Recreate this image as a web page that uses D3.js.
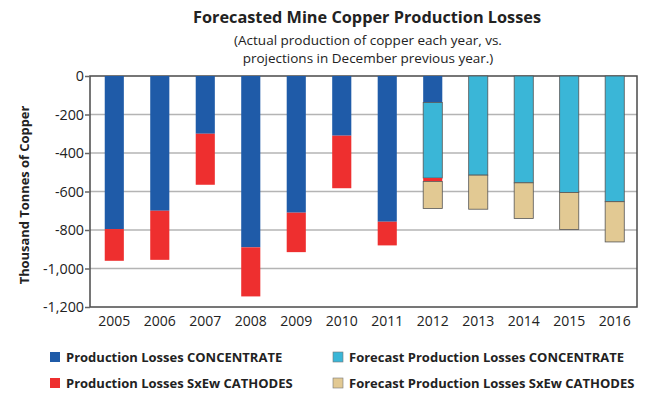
<!DOCTYPE html>
<html>
<head>
<meta charset="utf-8">
<script src="https://cdn.jsdelivr.net/npm/d3@7"></script>
<style>
  body { margin: 0; background: #fff; }
  text { font-family: "Open Sans", "Noto Sans", sans-serif; fill: #222; }
</style>
</head>
<body>
<div id="chart"></div>
<script>
// values (thousand tonnes, negative = loss)
var years = ["2005","2006","2007","2008","2009","2010","2011","2012","2013","2014","2015","2016"];
var concentrate = [-795, -700, -300, -890, -710, -310, -757, -138, 0, 0, 0, 0];
var cathodes = [-165, -255, -265, -255, -205, -273, -123, -18, 0, 0, 0, 0];
var forecastConcentrate = [0, 0, 0, 0, 0, 0, 0, -392, -515, -555, -605, -653];
var forecastCathodes = [0, 0, 0, 0, 0, 0, 0, -140, -177, -185, -192, -209];
var yTicks = [0, -200, -400, -600, -800, -1000, -1200];

var series = [
  {key: "conc", label: "Production Losses CONCENTRATE", color: "#1f5ba8", values: concentrate},
  {key: "fconc", label: "Forecast Production Losses CONCENTRATE", color: "#3ab6d7", values: forecastConcentrate, outline: true},
  {key: "cath", label: "Production Losses SxEw CATHODES", color: "#ee2f2f", values: cathodes},
  {key: "fcath", label: "Forecast Production Losses SxEw CATHODES", color: "#e2c993", values: forecastCathodes, outline: true}
];

var W = 655, H = 398;
var margin = {top: 76, right: 18, bottom: 91, left: 90};
var width = W - margin.left - margin.right,
    height = H - margin.top - margin.bottom;

var svg = d3.select("#chart").append("svg")
    .attr("width", W)
    .attr("height", H);

// titles
svg.append("text")
    .attr("x", 367).attr("y", 23)
    .attr("text-anchor", "middle")
    .style("font-size", "16.3px").style("font-weight", "bold")
    .text("Forecasted Mine Copper Production Losses");
svg.append("text")
    .attr("x", 368).attr("y", 45)
    .attr("text-anchor", "middle")
    .style("font-size", "13.5px")
    .text("(Actual production of copper each year, vs.");
svg.append("text")
    .attr("x", 368).attr("y", 63)
    .attr("text-anchor", "middle")
    .style("font-size", "13.5px")
    .text("projections in December previous year.)");

var g = svg.append("g")
    .attr("transform", "translate(" + margin.left + "," + margin.top + ")");

var x = d3.scaleBand().domain(years).range([2, width]).padding(0.58).paddingOuter(0.28);
var y = d3.scaleLinear().domain([0, -1200]).range([0, height]);

// gridlines
g.selectAll(".grid")
    .data(yTicks.filter(function(d) { return d !== 0 && d !== -1200; }))
  .enter().append("line")
    .attr("x1", 0).attr("x2", width)
    .attr("y1", function(d) { return y(d); })
    .attr("y2", function(d) { return y(d); })
    .style("stroke", "#b4b4b4").style("stroke-width", 1.5);

// frame
g.append("rect")
    .attr("width", width).attr("height", height)
    .style("fill", "none").style("stroke", "#4a4a4a").style("stroke-width", 1.5);

// stacked bars
var table = years.map(function(yr, i) {
  var row = {year: yr};
  series.forEach(function(s) { row[s.key] = s.values[i]; });
  return row;
});
var stack = d3.stack().keys(series.map(function(s) { return s.key; })).offset(d3.stackOffsetDiverging);
var layers = stack(table);

layers.forEach(function(layer, li) {
  var s = series[li];
  g.selectAll(".bar-" + s.key)
      .data(layer.filter(function(d) { return d[0] !== d[1]; }))
    .enter().append("rect")
      .attr("x", function(d) { return x(d.data.year); })
      .attr("width", x.bandwidth())
      .attr("y", function(d) { return y(Math.max(d[0], d[1])); })
      .attr("height", function(d) { return Math.abs(y(d[1]) - y(d[0])); })
      .style("fill", s.color)
      .style("stroke", s.outline ? "#555" : "none")
      .style("stroke-width", s.outline ? 0.8 : 0);
});

// axes
var yAxis = g.append("g")
    .call(d3.axisLeft(y).tickValues(yTicks).tickSize(5));
yAxis.select(".domain").remove();
yAxis.selectAll("line").style("stroke", "#666").style("stroke-width", 1.5);
yAxis.selectAll("text").style("font-size", "14.3px").attr("x", -6).style("fill", "#222")
    .text(function(d) { return d3.format(",")(d).replace("−", "-"); });

var xAxis = g.append("g")
    .attr("transform", "translate(0," + height + ")")
    .call(d3.axisBottom(x).tickSize(0));
xAxis.select(".domain").remove();
xAxis.selectAll("text").style("font-size", "14px").attr("dy", "1.15em").style("fill", "#222");

svg.append("text")
    .attr("transform", "translate(29,195) rotate(-90)")
    .attr("text-anchor", "middle")
    .style("font-size", "12.9px").style("font-weight", "bold")
    .text("Thousand Tonnes of Copper");

// legend
var legendPos = [[50, 352], [333, 352], [50, 378], [333, 378]];
series.forEach(function(s, i) {
  var lg = svg.append("g").attr("transform", "translate(" + legendPos[i][0] + "," + legendPos[i][1] + ")");
  lg.append("rect").attr("width", 10).attr("height", 10)
      .style("fill", s.color)
      .style("stroke", s.outline ? "#777" : "none").style("stroke-width", 0.6);
  lg.append("text").attr("x", 16).attr("y", 9.5)
      .style("font-size", "13px").style("font-weight", "bold")
      .text(s.label);
});
</script>
</body>
</html>
